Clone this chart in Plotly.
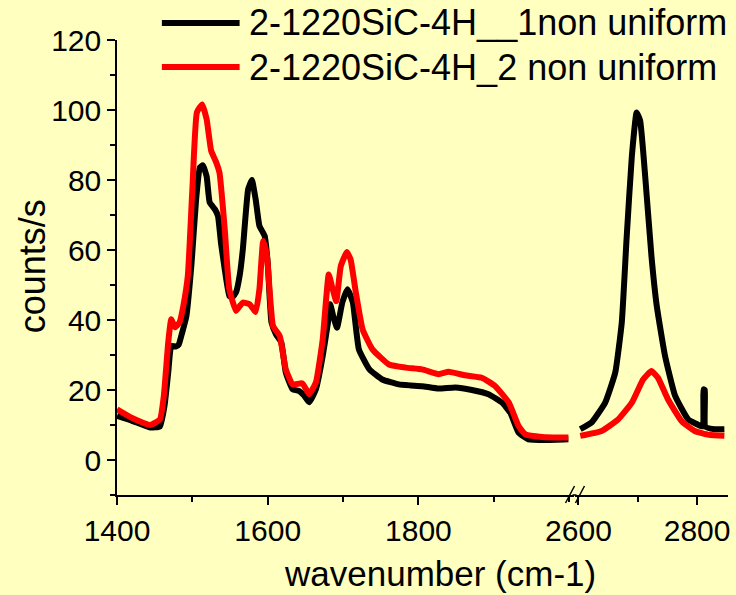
import plotly.graph_objects as go

# ---------------- data ----------------
wn_black_a = [1400, 1420, 1444, 1457, 1463, 1468, 1472, 1478, 1482, 1486, 1492, 1499, 1505, 1510,
              1514, 1519, 1523, 1530, 1534, 1538, 1543, 1549, 1553, 1558, 1563, 1567, 1574, 1579,
              1584, 1589, 1596, 1600, 1605, 1611, 1618, 1624, 1633, 1642, 1648, 1655, 1664, 1673,
              1680, 1683, 1687, 1692, 1699, 1706, 1713, 1721, 1735, 1752, 1774, 1790, 1805, 1827,
              1849, 1871, 1893, 1911, 1922, 1933, 1946, 1970, 1999]
black_a = [12.6, 11.2, 9.3, 9.6, 15.4, 25, 32.6, 32.4, 33, 36, 41, 56.4, 74.5, 83.6,
           84.2, 81, 73.6, 71.6, 69.7, 62, 54.5, 46.9, 46.5, 47.9, 53, 60.2, 77.3, 80,
           74.5, 66.9, 64, 56.4, 39.3, 35.9, 33.6, 25, 20.2, 19.7, 18.5, 16.5, 20.2, 29.7,
           39.3, 44.5, 41, 37.8, 45, 48.8, 45, 31.6, 25.9, 23, 21.6, 21.3, 21.1, 20.4,
           20.7, 20, 18.8, 16.4, 13.5, 7.8, 5.9, 5.7, 5.9]

wn_red_a = [1400, 1420, 1444, 1457, 1462, 1468, 1472, 1477, 1483, 1488, 1494, 1500, 1506, 1513,
            1519, 1525, 1531, 1536, 1543, 1549, 1558, 1563, 1567, 1576, 1584, 1589, 1594, 1599,
            1607, 1616, 1624, 1633, 1646, 1655, 1664, 1673, 1681, 1686, 1691, 1697, 1705, 1710,
            1717, 1726, 1739, 1761, 1783, 1805, 1827, 1840, 1862, 1884, 1902, 1920, 1933, 1942,
            1964, 1999]
red_a = [14.5, 12, 10, 11.6, 18, 33.6, 40.2, 37.9, 39.3, 44, 52.6, 77.3, 99.3, 101.6,
         97.3, 88.3, 85.4, 82.1, 65.9, 48.8, 42.6, 44, 45, 44.5, 42.3, 48.8, 62.6, 58.3,
         38.3, 35.4, 25.9, 21.6, 21.9, 18.8, 22.2, 34.5, 53, 49, 45.4, 55.4, 59.4, 57.3,
         47.8, 37.3, 31.6, 27.3, 26.4, 25.9, 24.5, 25.2, 24.2, 23.5, 21.1, 16.4, 9.7, 7.3,
         6.6, 6.4]

wn_black_b = [2603, 2622, 2645, 2662, 2673, 2681, 2690, 2698, 2704, 2712, 2723, 2732, 2746,
              2763, 2785, 2807, 2810, 2811, 2813, 2814, 2830, 2846]
black_b = [8.8, 10.7, 16.4, 25, 39.3, 63, 86.9, 99.3, 96.9, 82.1, 58.3, 44, 29.7,
           18.3, 11.6, 9.7, 9.7, 20.2, 20, 9.5, 8.8, 8.8]

wn_red_b = [2603, 2639, 2667, 2690, 2709, 2723, 2734, 2751, 2774, 2796, 2820, 2846]
red_b = [6.9, 8.3, 11.6, 16.4, 23, 25.4, 23.5, 17.3, 11.1, 8.3, 7.2, 6.9]

series_names = ["2-1220SiC-4H__1non uniform", "2-1220SiC-4H_2 non uniform"]
series_colors = ["#000000", "#FF0000"]

y_ticks = [0, 20, 40, 60, 80, 100, 120]
x1_ticks = [1400, 1600, 1800]
x2_ticks = [2600, 2800]

# ---------------- layout geometry ----------------
W, H = 736, 595
L, R, T, B = 117, 6, 40, 100
PW, PH = W - L - R, H - T - B


def px(xp):
    return (xp - L) / PW


def py(yp):
    return (H - B - yp) / PH


BG = "#FFFFC0"
FONT = "Liberation Sans, Arial, sans-serif"
LW = 6

fig = go.Figure()
for xs, ys, color, ax in [(wn_black_a, black_a, series_colors[0], "x"),
                          (wn_red_a, red_a, series_colors[1], "x"),
                          (wn_black_b, black_b, series_colors[0], "x2"),
                          (wn_red_b, red_b, series_colors[1], "x2")]:
    fig.add_trace(go.Scatter(x=xs, y=ys, mode="lines", xaxis=ax, yaxis="y",
                             line=dict(color=color, width=LW, shape="spline", smoothing=0.4)))

d1_end_px, d2_start_px = 575, 577
x1_scale = 0.756
x2_scale = 0.595

axis_common = dict(showline=True, linecolor="black", linewidth=1.5, ticks="outside",
                   ticklen=8, tickwidth=1.5, tickcolor="black", showgrid=False, zeroline=False,
                   tickfont=dict(family=FONT, size=30, color="black"))

fig.update_layout(
    width=W, height=H,
    margin=dict(l=L, r=R, t=T, b=B),
    paper_bgcolor=BG, plot_bgcolor=BG,
    showlegend=False,
    xaxis=dict(domain=[0, px(d1_end_px)],
               range=[1400, 1400 + (d1_end_px - L) / x1_scale],
               tickvals=x1_ticks,
               minor=dict(dtick=100, tick0=1400, ticks="outside", ticklen=5, tickwidth=1.5,
                          tickcolor="black"),
               anchor="y", **axis_common),
    xaxis2=dict(domain=[px(d2_start_px), 1],
                range=[2600 - (580 - d2_start_px) / x2_scale, 2600 + (730 - 580) / x2_scale],
                tickvals=x2_ticks,
                minor=dict(dtick=100, tick0=2600, ticks="outside", ticklen=5, tickwidth=1.5,
                           tickcolor="black"),
                anchor="y", **axis_common),
    yaxis=dict(domain=[0, 1], range=[-10, 120], tickvals=y_ticks,
               minor=dict(dtick=10, tick0=0, ticks="outside", ticklen=5, tickwidth=1.5,
                          tickcolor="black"),
               anchor="x", **axis_common),
)

shapes = []
annotations = []
# bridge the axis line through the break and draw the // marks
shapes.append(dict(type="line", xref="paper", yref="paper",
                   x0=px(d1_end_px - 1), x1=px(d2_start_px + 1), y0=0, y1=0,
                   line=dict(color="black", width=1.5)))
for off in (0, 10):
    shapes.append(dict(type="line", xref="paper", yref="paper",
                       x0=px(567 + off), y0=py(503), x1=px(576 + off), y1=py(486),
                       line=dict(color="black", width=1.5)))

# legend drawn by hand (long line samples)
leg_rows = [23, 67]
for name, color, yrow in zip(series_names, series_colors, leg_rows):
    shapes.append(dict(type="line", xref="paper", yref="paper",
                       x0=px(162), x1=px(240), y0=py(yrow), y1=py(yrow),
                       line=dict(color=color, width=LW)))
    annotations.append(dict(text=name, xref="paper", yref="paper", x=px(247), y=py(yrow),
                            xanchor="left", yanchor="middle", showarrow=False,
                            font=dict(family=FONT, size=36, color="black")))

# axis titles
annotations.append(dict(text="wavenumber (cm-1)", xref="paper", yref="paper",
                        x=px(441), y=py(573), xanchor="center", yanchor="middle",
                        showarrow=False, font=dict(family=FONT, size=35, color="black")))
annotations.append(dict(text="counts/s", xref="paper", yref="paper",
                        x=px(32), y=py(266), xanchor="center", yanchor="middle", textangle=-90,
                        showarrow=False, font=dict(family=FONT, size=36, color="black")))

fig.update_layout(shapes=shapes, annotations=annotations)
fig.write_html("out.html")
